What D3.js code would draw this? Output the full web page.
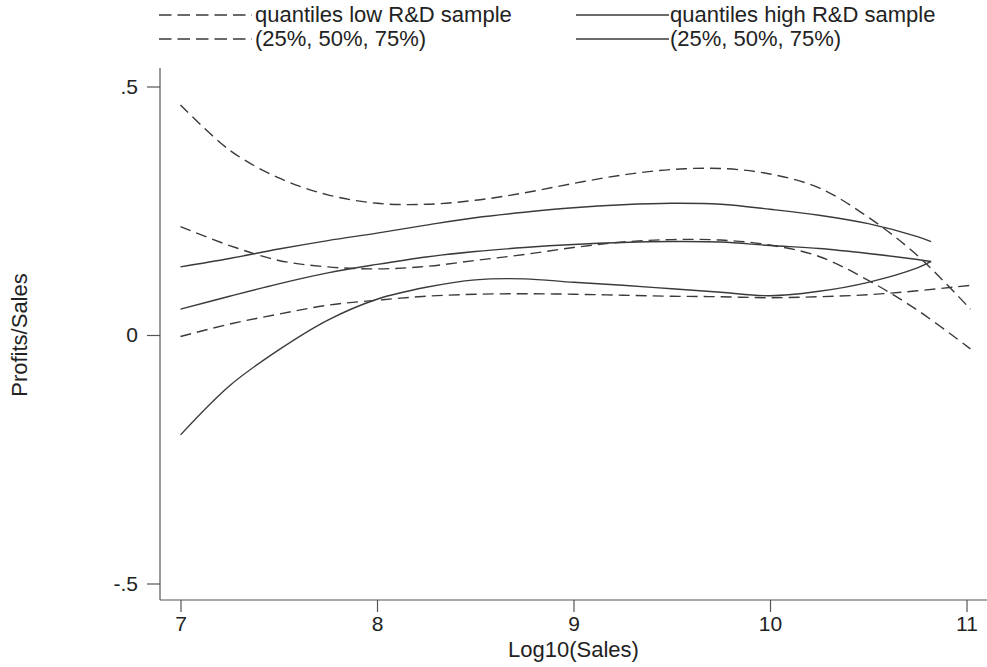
<!DOCTYPE html>
<html>
<head>
<meta charset="utf-8">
<script src="https://cdn.jsdelivr.net/npm/d3@7"></script>
<style>
  html, body { margin: 0; padding: 0; background: #fff; }
  svg { display: block; }
  text { font-family: "Liberation Sans", Arial, Helvetica, sans-serif; fill: #222; }
</style>
</head>
<body>
<svg id="chart" width="987" height="667"></svg>
<script>
// Log10(Sales) sample points for each group of quantile curves
const xLow  = [7, 7.25, 7.5, 7.75, 8, 8.25, 8.5, 8.75, 9, 9.25, 9.5, 9.75, 10, 10.25, 10.5, 10.75, 11.02];
const xHigh = [7, 7.25, 7.5, 7.75, 8, 8.25, 8.5, 8.75, 9, 9.25, 9.5, 9.75, 10, 10.25, 10.5, 10.75, 10.82];

// Low R&D sample: Profits/Sales quantiles (dashed)
const low25 = [-0.003, 0.022, 0.042, 0.060, 0.070, 0.078, 0.082, 0.083, 0.082, 0.080, 0.078, 0.077, 0.075, 0.077, 0.081, 0.089, 0.100];
const low50 = [0.218, 0.180, 0.150, 0.137, 0.133, 0.138, 0.150, 0.162, 0.176, 0.187, 0.192, 0.191, 0.181, 0.158, 0.110, 0.050, -0.028];
const low75 = [0.463, 0.372, 0.316, 0.282, 0.265, 0.263, 0.271, 0.286, 0.305, 0.322, 0.333, 0.335, 0.324, 0.296, 0.237, 0.160, 0.052];

// High R&D sample: Profits/Sales quantiles (solid)
const high25 = [-0.201, -0.102, -0.030, 0.030, 0.072, 0.096, 0.111, 0.113, 0.106, 0.100, 0.093, 0.086, 0.079, 0.088, 0.106, 0.135, 0.148];
const high50 = [0.052, 0.078, 0.103, 0.125, 0.142, 0.157, 0.168, 0.176, 0.182, 0.186, 0.188, 0.187, 0.180, 0.174, 0.164, 0.152, 0.148];
const high75 = [0.137, 0.154, 0.173, 0.190, 0.205, 0.221, 0.236, 0.247, 0.256, 0.262, 0.265, 0.263, 0.253, 0.241, 0.224, 0.198, 0.188];

// Axis ticks and labels
const xTicks = [7, 8, 9, 10, 11];
const yTicks = [-0.5, 0, 0.5];
const yTickLabels = ["-.5", "0", ".5"];

const legendItems = [
  { label: ["quantiles low R&D sample", "(25%, 50%, 75%)"], dashed: true },
  { label: ["quantiles high R&D sample", "(25%, 50%, 75%)"], dashed: false }
];

const svg = d3.select("#chart");
const ink = "#3a3a3a";
const dash = "11,6";
const fontSize = 22;
const tickFont = 21;

const x = d3.scaleLinear().domain([7, 11]).range([180.5, 966.5]);
const y = d3.scaleLinear().domain([-0.5, 0.5]).range([583.5, 86.5]);

const axisX = 160, axisY = 600, axisTop = 68;

// Axis lines
svg.append("line").attr("x1", axisX).attr("x2", axisX).attr("y1", axisTop).attr("y2", axisY)
  .attr("stroke", "#555").attr("stroke-width", 1.2);
svg.append("line").attr("x1", axisX).attr("x2", 987).attr("y1", axisY).attr("y2", axisY)
  .attr("stroke", "#555").attr("stroke-width", 1.2);

// Y axis
const gy = svg.append("g").attr("transform", `translate(${axisX},0)`)
  .call(d3.axisLeft(y).tickValues(yTicks).tickSize(13).tickPadding(9)
    .tickFormat((d, i) => yTickLabels[i]));
gy.select(".domain").remove();
gy.selectAll(".tick line").attr("stroke", "#555").attr("stroke-width", 1.2);
gy.selectAll(".tick text").attr("font-size", tickFont).attr("fill", "#222")
  .attr("font-family", "Liberation Sans, Arial, sans-serif");

// X axis
const gx = svg.append("g").attr("transform", `translate(0,${axisY})`)
  .call(d3.axisBottom(x).tickValues(xTicks).tickSize(12).tickPadding(4).tickFormat(d3.format("d")));
gx.select(".domain").remove();
gx.selectAll(".tick line").attr("stroke", "#555").attr("stroke-width", 1.2);
gx.selectAll(".tick text").attr("font-size", tickFont).attr("fill", "#222")
  .attr("font-family", "Liberation Sans, Arial, sans-serif");

// Axis titles
svg.append("text").attr("x", x(9)).attr("y", 657).attr("text-anchor", "middle")
  .attr("font-size", fontSize).text("Log10(Sales)");
svg.append("text").attr("transform", `translate(27,${y(0)}) rotate(-90)`)
  .attr("text-anchor", "middle").attr("font-size", fontSize).text("Profits/Sales");

// Quantile curves
const line = d3.line().x(d => x(d[0])).y(d => y(d[1])).curve(d3.curveCatmullRom.alpha(0.5));
const series = [
  { xs: xLow, ys: low25, dashed: true },
  { xs: xLow, ys: low50, dashed: true },
  { xs: xLow, ys: low75, dashed: true },
  { xs: xHigh, ys: high25, dashed: false },
  { xs: xHigh, ys: high50, dashed: false },
  { xs: xHigh, ys: high75, dashed: false }
];
svg.append("g").selectAll("path").data(series).join("path")
  .attr("d", s => line(s.xs.map((v, i) => [v, s.ys[i]])))
  .attr("fill", "none")
  .attr("stroke", ink)
  .attr("stroke-width", 1.4)
  .attr("stroke-dasharray", s => s.dashed ? dash : null);

// Legend: two columns, each key drawn on both text rows
const legendPos = [{ x1: 159, x2: 252, tx: 255 }, { x1: 576, x2: 669, tx: 670 }];
const rowBase = [22, 46];
legendItems.forEach((item, k) => {
  const p = legendPos[k];
  item.label.forEach((t, r) => {
    svg.append("line").attr("x1", p.x1).attr("x2", p.x2)
      .attr("y1", rowBase[r] - 7).attr("y2", rowBase[r] - 7)
      .attr("stroke", ink).attr("stroke-width", 1.4)
      .attr("stroke-dasharray", item.dashed ? "12.5,6" : null);
    svg.append("text").attr("x", p.tx).attr("y", rowBase[r]).attr("font-size", fontSize).text(t);
  });
});
</script>
</body>
</html>
